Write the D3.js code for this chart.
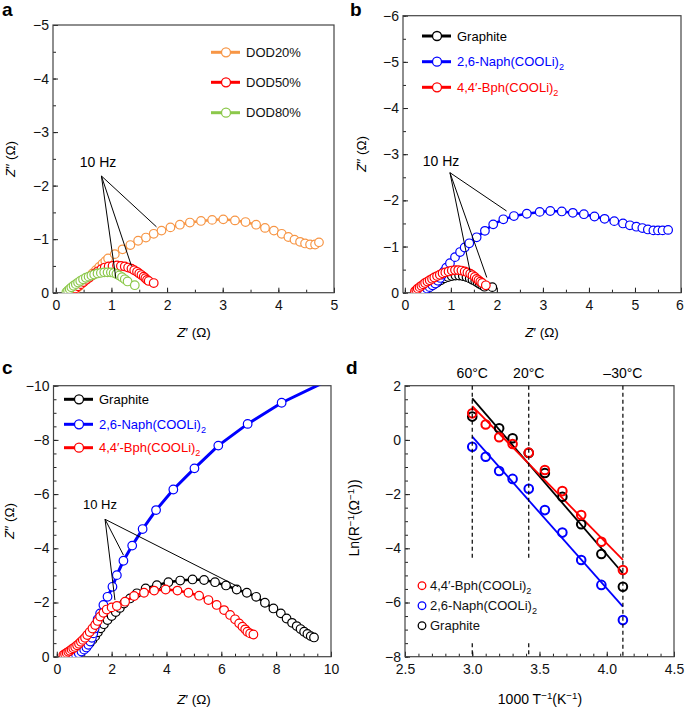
<!DOCTYPE html>
<html>
<head>
<meta charset="utf-8">
<script src="https://cdn.jsdelivr.net/npm/d3@7"></script>
<style>
body { margin: 0; background: #fff; }
svg { font-family: "Liberation Sans", Arial, sans-serif; }
</style>
</head>
<body>
<svg id="fig" width="685" height="709"></svg>
<script>
// ---- panel a : Nyquist plots at different depth of discharge (Z', Z'')
const dod20 = [[0.30,0],[0.36,-0.06],[0.42,-0.12],[0.48,-0.18],[0.54,-0.24],[0.60,-0.30],[0.66,-0.36],[0.72,-0.42],[0.78,-0.48],[0.84,-0.54],[0.89,-0.59],[0.94,-0.64],[1.06,-0.72],[1.20,-0.81],[1.34,-0.89],[1.48,-0.97],[1.62,-1.03],[1.76,-1.10],[1.90,-1.16],[2.06,-1.22],[2.23,-1.27],[2.41,-1.31],[2.61,-1.34],[2.81,-1.36],[3.01,-1.37],[3.22,-1.35],[3.41,-1.32],[3.60,-1.27],[3.76,-1.21],[3.92,-1.16],[4.06,-1.10],[4.18,-1.04],[4.29,-0.99],[4.39,-0.95],[4.48,-0.92],[4.57,-0.90],[4.66,-0.90],[4.73,-0.94]]
const dod50 = [[0.25,0],[0.30,-0.04],[0.35,-0.08],[0.40,-0.12],[0.45,-0.16],[0.50,-0.20],[0.55,-0.24],[0.60,-0.28],[0.65,-0.32],[0.70,-0.36],[0.76,-0.40],[0.82,-0.44],[0.88,-0.47],[0.95,-0.49],[1.02,-0.50],[1.10,-0.51],[1.17,-0.50],[1.24,-0.49],[1.30,-0.47],[1.36,-0.45],[1.41,-0.42],[1.46,-0.39],[1.50,-0.36],[1.54,-0.33],[1.58,-0.30],[1.61,-0.27],[1.64,-0.24],[1.67,-0.22],[1.76,-0.18]]
const dod80 = [[0.19,-0.01],[0.22,-0.04],[0.25,-0.07],[0.28,-0.10],[0.32,-0.13],[0.36,-0.16],[0.40,-0.19],[0.44,-0.22],[0.49,-0.25],[0.54,-0.28],[0.59,-0.30],[0.64,-0.32],[0.69,-0.34],[0.75,-0.36],[0.81,-0.37],[0.87,-0.38],[0.93,-0.38],[0.99,-0.38],[1.04,-0.37],[1.09,-0.35],[1.14,-0.32],[1.19,-0.29],[1.24,-0.25],[1.29,-0.21],[1.42,-0.14]]
const aNames = ['DOD20%', 'DOD50%', 'DOD80%']
const aHz = [[0.82,-2.18],[1.81,-1.23],[1.36,-0.50],[1.08,-0.27]]  // label anchor, then targets

// ---- panel b : three anodes
const bGraphite = [[0.30,0],[0.38,-0.03],[0.46,-0.07],[0.54,-0.12],[0.62,-0.17],[0.70,-0.22],[0.78,-0.27],[0.86,-0.31],[0.94,-0.34],[1.02,-0.36],[1.10,-0.37],[1.18,-0.37],[1.26,-0.36],[1.34,-0.34],[1.41,-0.31],[1.47,-0.28],[1.53,-0.25],[1.58,-0.22],[1.63,-0.19],[1.68,-0.16],[1.73,-0.13],[1.90,-0.12]]
const bNaph = [[0.30,0],[0.36,-0.03],[0.42,-0.06],[0.48,-0.09],[0.54,-0.12],[0.60,-0.16],[0.66,-0.20],[0.72,-0.26],[0.77,-0.32],[0.81,-0.39],[0.85,-0.46],[0.90,-0.54],[0.98,-0.64],[1.09,-0.77],[1.20,-0.88],[1.30,-0.98],[1.40,-1.07],[1.56,-1.20],[1.74,-1.34],[1.92,-1.48],[2.14,-1.59],[2.37,-1.66],[2.65,-1.71],[2.93,-1.75],[3.16,-1.77],[3.41,-1.76],[3.65,-1.73],[3.89,-1.70],[4.12,-1.65],[4.34,-1.60],[4.55,-1.55],[4.74,-1.50],[4.89,-1.46],[5.03,-1.43],[5.16,-1.40],[5.28,-1.37],[5.40,-1.35],[5.50,-1.35],[5.60,-1.35],[5.72,-1.36]]
const bBph = [[0.22,-0.03],[0.25,-0.06],[0.28,-0.09],[0.32,-0.12],[0.36,-0.15],[0.40,-0.18],[0.44,-0.21],[0.49,-0.24],[0.54,-0.27],[0.59,-0.30],[0.64,-0.33],[0.70,-0.36],[0.76,-0.39],[0.82,-0.42],[0.88,-0.44],[0.95,-0.46],[1.02,-0.48],[1.09,-0.49],[1.16,-0.49],[1.23,-0.48],[1.30,-0.46],[1.36,-0.44],[1.42,-0.41],[1.47,-0.38],[1.52,-0.34],[1.56,-0.30],[1.60,-0.27],[1.64,-0.24],[1.68,-0.21],[1.76,-0.16]]
const bHz = [[0.98,-2.60],[2.21,-1.77],[1.42,-0.45],[1.78,-0.33]]

// ---- panel c : three anodes at low temperature
const cGraphite = [[0.50,0],[0.60,-0.05],[0.70,-0.10],[0.80,-0.16],[0.90,-0.23],[1.00,-0.31],[1.10,-0.40],[1.20,-0.50],[1.30,-0.62],[1.40,-0.75],[1.50,-0.90],[1.60,-1.05],[1.72,-1.20],[1.85,-1.35],[2.00,-1.50],[2.15,-1.65],[2.30,-1.80],[2.45,-1.96],[2.67,-2.15],[2.92,-2.34],[3.24,-2.52],[3.65,-2.64],[4.07,-2.75],[4.50,-2.81],[4.95,-2.85],[5.37,-2.83],[5.77,-2.75],[6.17,-2.63],[6.56,-2.48],[6.93,-2.36],[7.27,-2.21],[7.59,-1.99],[7.90,-1.78],[8.17,-1.60],[8.38,-1.41],[8.58,-1.25],[8.75,-1.13],[8.89,-1.02],[9.02,-0.92],[9.14,-0.84],[9.26,-0.76],[9.38,-0.71]]
const cNaph = [[0.50,0],[0.60,-0.04],[0.70,-0.08],[0.80,-0.13],[0.90,-0.19],[1.00,-0.26],[1.08,-0.34],[1.15,-0.44],[1.22,-0.56],[1.28,-0.70],[1.33,-0.86],[1.38,-1.04],[1.43,-1.20],[1.49,-1.38],[1.58,-1.60],[1.70,-1.91],[1.85,-2.21],[2.03,-2.58],[2.19,-3.01],[2.43,-3.54],[2.75,-4.10],[3.13,-4.71],[3.62,-5.41],[4.25,-6.17],[5.02,-6.95],[5.89,-7.79],[6.96,-8.59],[8.20,-9.37],[9.90,-10.2]]
const cBph = [[0.24,-0.06],[0.30,-0.10],[0.36,-0.14],[0.42,-0.18],[0.48,-0.22],[0.54,-0.27],[0.60,-0.31],[0.67,-0.36],[0.74,-0.42],[0.81,-0.48],[0.88,-0.55],[0.95,-0.62],[1.03,-0.70],[1.11,-0.80],[1.20,-0.91],[1.30,-1.04],[1.40,-1.17],[1.49,-1.32],[1.58,-1.48],[1.70,-1.62],[1.82,-1.74],[2.00,-1.82],[2.19,-1.87],[2.49,-2.03],[2.82,-2.24],[3.18,-2.36],[3.55,-2.44],[3.97,-2.48],[4.40,-2.44],[4.80,-2.36],[5.19,-2.25],[5.53,-2.09],[5.83,-1.91],[6.10,-1.72],[6.32,-1.54],[6.50,-1.38],[6.65,-1.23],[6.77,-1.11],[6.87,-1.01],[6.95,-0.92],[7.05,-0.86],[7.17,-0.82]]
const cHz = [[1.76,-5.07],[2.43,-3.75],[2.12,-2.09],[6.62,-2.58]]

const anodeNames = ['Graphite', '2,6-Naph(COOLi)', '4,4\u2032-Bph(COOLi)']

// ---- panel d : Arrhenius plot, 1000/T vs ln(1/R)
const invT = [3.00, 3.10, 3.20, 3.30, 3.42, 3.54, 3.67, 3.81, 3.96, 4.12]
const lnBph = [0.98, 0.57, 0.10, -0.15, -0.47, -1.11, -1.89, -2.77, -3.76, -4.80]
const lnNaph = [-0.25, -0.62, -1.15, -1.44, -1.80, -2.59, -3.42, -4.43, -5.35, -6.65]
const invTGraphite = [3.00, 3.20, 3.30, 3.42, 3.54, 3.67, 3.81, 3.96, 4.12]
const lnGraphite = [0.86, 0.43, 0.06, -0.48, -1.22, -2.10, -3.11, -4.21, -5.42]
const fitBph = [[3.00, 1.25], [4.12, -4.43]]
const fitNaph = [[3.00, 0.12], [4.12, -6.15]]
const fitGraphite = [[3.00, 1.53], [4.12, -4.92]]
const tempMarks = [3.00, 3.42, 4.12]
const tempLabels = ['60\u00B0C', '20\u00B0C', '\u201330\u00B0C']

const orange = '#f79646', red = '#ff0000', green = '#8cc84b', blue = '#0000ff', black = '#000'

const svg = d3.select('#fig')
const intFmt = d3.format('~g')

function rich(t, parts) {
    let shift = 0
    parts.forEach(p => {
        const ts = t.append('tspan').text(p.t)
        const target = p.sub ? 4 : p.sup ? -5 : 0
        if (target !== shift) { ts.attr('dy', target - shift); shift = target }
        if (p.sub || p.sup) ts.attr('font-size', '0.7em')
        if (p.it) ts.attr('font-style', 'italic')
    })
    return t
}

function panel(o) {
    const g = svg.append('g')
    const x = d3.scaleLinear().domain(o.xd).range(o.xr)
    const y = d3.scaleLinear().domain(o.yd).range(o.yr)

    const bottom = (vals, size, fmt) => g.append('g')
        .attr('transform', `translate(0,${o.yr[0]})`)
        .call(d3.axisBottom(x).tickValues(vals).tickSize(size).tickPadding(7).tickFormat(fmt))
    const left = (vals, size, fmt) => g.append('g')
        .attr('transform', `translate(${o.xr[0]},0)`)
        .call(d3.axisLeft(y).tickValues(vals).tickSize(size).tickPadding(4).tickFormat(fmt))

    bottom(o.xMinor, -3, '')
    left(o.yMinor, -3, '')
    const xa = bottom(o.xMajor, -5, o.xf || intFmt)
    left(o.yMajor, -5, intFmt)
    g.selectAll('.domain').remove()
    g.selectAll('.tick text').attr('font-size', 14).attr('font-family', null).attr('fill', '#111')
    g.selectAll('.tick line').attr('stroke', '#222')
    if (o.lastDx) xa.selectAll('.tick:last-of-type text').attr('dx', o.lastDx)

    g.append('rect')
        .attr('x', o.xr[0]).attr('y', o.yr[1])
        .attr('width', o.xr[1] - o.xr[0]).attr('height', o.yr[0] - o.yr[1])
        .attr('fill', 'none').attr('stroke', '#444').attr('stroke-width', 1.2)

    const clipId = 'clip' + o.letter
    svg.append('clipPath').attr('id', clipId).append('rect')
        .attr('x', o.xr[0]).attr('y', o.yr[1])
        .attr('width', o.xr[1] - o.xr[0]).attr('height', o.yr[0] - o.yr[1])
    const plot = g.append('g').attr('clip-path', `url(#${clipId})`)

    svg.append('text').text(o.letter)
        .attr('x', o.letterPos[0]).attr('y', o.letterPos[1])
        .attr('font-size', 19).attr('font-weight', 'bold')

    return { g, plot, x, y }
}

function nyquistSeries(p, data, color, width) {
    const line = d3.line().x(d => p.x(d[0])).y(d => p.y(d[1]))
    p.plot.append('path').datum(data).attr('d', line)
        .attr('fill', 'none').attr('stroke', color).attr('stroke-width', width || 2.5)
    p.plot.selectAll(null).data(data).join('circle')
        .attr('cx', d => p.x(d[0])).attr('cy', d => p.y(d[1])).attr('r', 4.3)
        .attr('fill', '#fff').attr('stroke', color).attr('stroke-width', 1.2)
}

function legendEntry(g, lx, ly, color, parts, textColor) {
    g.append('line').attr('x1', lx).attr('x2', lx + 29).attr('y1', ly).attr('y2', ly)
        .attr('stroke', color).attr('stroke-width', 3)
    g.append('circle').attr('cx', lx + 15).attr('cy', ly).attr('r', 4.5)
        .attr('fill', '#fff').attr('stroke', color).attr('stroke-width', 1.3)
    rich(g.append('text').attr('x', lx + 35).attr('y', ly).attr('dy', '0.36em')
        .attr('font-size', 13).attr('fill', textColor), parts)
}

function hzNote(p, pts, tx, ty, size) {
    const [ax, ay] = pts[0]
    pts.slice(1).forEach(t => {
        p.g.append('line')
            .attr('x1', p.x(ax)).attr('y1', p.y(ay))
            .attr('x2', p.x(t[0])).attr('y2', p.y(t[1]))
            .attr('stroke', '#000').attr('stroke-width', 1)
    })
    p.g.append('text').text('10 Hz').attr('x', tx).attr('y', ty)
        .attr('text-anchor', 'middle').attr('font-size', size)
}

function zTitles(p, xl, yl) {
    rich(p.g.append('text').attr('x', xl[0]).attr('y', xl[1]).attr('text-anchor', 'middle')
        .attr('font-size', 13.5), [{ t: 'Z', it: true }, { t: '\u2032 (\u03A9)' }])
    rich(p.g.append('text').attr('transform', `translate(${yl[0]},${yl[1]}) rotate(-90)`)
        .attr('text-anchor', 'middle').attr('font-size', 13.5),
        [{ t: 'Z', it: true }, { t: '\u2032\u2032 (\u03A9)' }])
}

const anodeLegend = (g, lx, ys) => {
    legendEntry(g, lx, ys[0], black, [{ t: anodeNames[0] }], black)
    legendEntry(g, lx, ys[1], blue, [{ t: anodeNames[1] }, { t: '2', sub: true }], blue)
    legendEntry(g, lx, ys[2], red, [{ t: anodeNames[2] }, { t: '2', sub: true }], red)
}

// ---------- a
const pa = panel({
    letter: 'a', letterPos: [2, 16],
    xd: [-0.05, 5], xr: [53, 334], yd: [0, -5], yr: [292.7, 25],
    xMajor: d3.range(0, 5.01, 1), xMinor: d3.range(0, 5.01, 0.5),
    yMajor: d3.range(0, -5.01, -1), yMinor: d3.range(0, -5.01, -0.5)
})
nyquistSeries(pa, dod20, orange)
nyquistSeries(pa, dod50, red)
nyquistSeries(pa, dod80, green)
hzNote(pa, aHz, 98, 167, 14)
;[orange, red, green].forEach((c, i) => legendEntry(pa.g, 211, [52.3, 82.3, 112.7][i], c, [{ t: aNames[i] }], '#111'))
zTitles(pa, [194, 337], [15, 159])

// ---------- b
const pb = panel({
    letter: 'b', letterPos: [350, 16],
    xd: [-0.04, 6], xr: [403, 681], yd: [0, -6], yr: [292.7, 15.7],
    xMajor: d3.range(0, 6.01, 1), xMinor: d3.range(0, 6.01, 0.5),
    yMajor: d3.range(0, -6.01, -1), yMinor: d3.range(0, -6.01, -0.5),
    lastDx: -1.5
})
nyquistSeries(pb, bGraphite, black)
nyquistSeries(pb, bNaph, blue)
nyquistSeries(pb, bBph, red)
hzNote(pb, bHz, 441, 166, 14)
anodeLegend(pb.g, 422, [36, 61.7, 87.3])
zTitles(pb, [542, 337], [366, 154])

// ---------- c
const pc = panel({
    letter: 'c', letterPos: [2, 374],
    xd: [-0.12, 10], xr: [53.5, 331], yd: [0, -10], yr: [656.7, 385.7],
    xMajor: d3.range(0, 10.01, 2), xMinor: d3.range(0, 10.01, 0.5),
    yMajor: d3.range(0, -10.01, -2), yMinor: d3.range(0, -10.01, -0.5)
})
nyquistSeries(pc, cGraphite, black)
nyquistSeries(pc, cNaph, blue, 3)
nyquistSeries(pc, cBph, red)
hzNote(pc, cHz, 100, 509, 13)
anodeLegend(pc.g, 64, [399.3, 424.3, 447.7])
zTitles(pc, [194, 704], [14, 521])

// ---------- d
const pd = panel({
    letter: 'd', letterPos: [346, 374],
    xd: [2.5, 4.5], xr: [405, 674], yd: [-8, 2], yr: [656.7, 385.7],
    xMajor: d3.range(2.5, 4.51, 0.5), xMinor: d3.range(2.5, 4.51, 0.1),
    yMajor: d3.range(-8, 2.01, 2), yMinor: d3.range(-8, 2.01, 0.5),
    xf: d3.format('.1f')
})

// dashed temperature markers
tempMarks.forEach((t, i) => {
    const segs = i < 2 ? [[2, -4.4], [-7.5, -8]] : [[2, -8]]
    segs.forEach(s => {
        pd.g.append('line').attr('x1', pd.x(t)).attr('x2', pd.x(t))
            .attr('y1', pd.y(s[0])).attr('y2', pd.y(s[1]))
            .attr('stroke', '#000').attr('stroke-width', 1.2).attr('stroke-dasharray', '4,3')
    })
    pd.g.append('text').text(tempLabels[i]).attr('x', pd.x(t)).attr('y', 378)
        .attr('text-anchor', 'middle').attr('font-size', 14)
})

const fitLine = d3.line().x(d => pd.x(d[0])).y(d => pd.y(d[1]))
const arrhenius = [
    { xs: invTGraphite, ys: lnGraphite, fit: fitGraphite, color: black },
    { xs: invT, ys: lnNaph, fit: fitNaph, color: blue },
    { xs: invT, ys: lnBph, fit: fitBph, color: red }
]
arrhenius.forEach(s => {
    pd.plot.append('path').datum(s.fit).attr('d', fitLine)
        .attr('stroke', s.color).attr('stroke-width', 1.8).attr('fill', 'none')
})
arrhenius.forEach(s => {
    pd.plot.selectAll(null).data(s.xs).join('circle')
        .attr('cx', d => pd.x(d)).attr('cy', (d, i) => pd.y(s.ys[i])).attr('r', 4.3)
        .attr('fill', 'none').attr('stroke', s.color).attr('stroke-width', 2)
})

const dLegend = [
    { color: red, parts: [{ t: anodeNames[2] }, { t: '2', sub: true }] },
    { color: blue, parts: [{ t: anodeNames[1] }, { t: '2', sub: true }] },
    { color: black, parts: [{ t: anodeNames[0] }] }
]
dLegend.forEach((e, i) => {
    const ly = 585.7 + i * 20
    pd.g.append('circle').attr('cx', 422).attr('cy', ly).attr('r', 3.8)
        .attr('fill', 'none').attr('stroke', e.color).attr('stroke-width', 1.3)
    rich(pd.g.append('text').attr('x', 430).attr('y', ly).attr('dy', '0.36em')
        .attr('font-size', 13).attr('fill', '#111'), e.parts)
})

rich(pd.g.append('text').attr('x', 540).attr('y', 704).attr('text-anchor', 'middle').attr('font-size', 14),
    [{ t: '1000 T' }, { t: '\u22121', sup: true }, { t: '(K' }, { t: '\u22121', sup: true }, { t: ')' }])
rich(pd.g.append('text').attr('transform', 'translate(359,518) rotate(-90)')
    .attr('text-anchor', 'middle').attr('font-size', 14),
    [{ t: 'Ln(R' }, { t: '\u22121', sup: true }, { t: '(\u03A9' }, { t: '\u22121', sup: true }, { t: '))' }])
</script>
</body>
</html>
